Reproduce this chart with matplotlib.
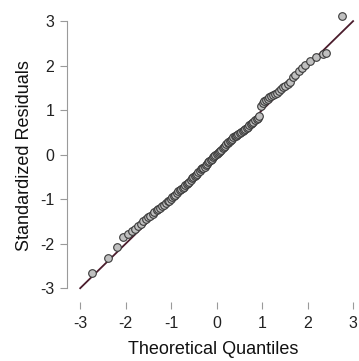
import matplotlib
matplotlib.use("Agg")
import matplotlib.pyplot as plt

plt.rcParams['font.family'] = ['Liberation Sans', 'DejaVu Sans']

# theoretical quantiles (x) and sorted standardized residuals (y)
theoretical = [
    -2.74, -2.38, -2.19, -2.05, -1.95, -1.87, -1.80, -1.73, -1.67, -1.61,
    -1.56, -1.51, -1.46, -1.41, -1.37, -1.32, -1.28, -1.24, -1.20, -1.16,
    -1.12, -1.08, -1.05, -1.01, -0.98, -0.94, -0.91, -0.88, -0.84, -0.81,
    -0.78, -0.75, -0.72, -0.69, -0.66, -0.63, -0.60, -0.57, -0.54, -0.51,
    -0.48, -0.45, -0.43, -0.40, -0.37, -0.34, -0.32, -0.29, -0.26, -0.24,
    -0.21, -0.18, -0.16, -0.13, -0.10, -0.08, -0.05, -0.03, 0.00, 0.03,
    0.05, 0.08, 0.10, 0.13, 0.16, 0.18, 0.21, 0.24, 0.26, 0.29,
    0.32, 0.34, 0.37, 0.40, 0.43, 0.45, 0.48, 0.51, 0.54, 0.57,
    0.60, 0.63, 0.66, 0.69, 0.72, 0.75, 0.78, 0.81, 0.84, 0.88,
    0.91, 0.94, 0.98, 1.01, 1.05, 1.08, 1.12, 1.16, 1.20, 1.24,
    1.28, 1.32, 1.37, 1.41, 1.46, 1.51, 1.56, 1.61, 1.67, 1.73,
    1.80, 1.87, 1.95, 2.05, 2.19, 2.33, 2.40, 2.76,
]
residuals = [
    -2.66, -2.32, -2.08, -1.84, -1.78, -1.72, -1.66, -1.61, -1.55, -1.50,
    -1.45, -1.41, -1.37, -1.33, -1.29, -1.25, -1.22, -1.19, -1.16, -1.12,
    -1.09, -1.05, -1.03, -0.99, -0.96, -0.93, -0.90, -0.86, -0.82, -0.80,
    -0.78, -0.76, -0.73, -0.69, -0.66, -0.64, -0.61, -0.57, -0.53, -0.50,
    -0.48, -0.46, -0.43, -0.39, -0.36, -0.33, -0.31, -0.29, -0.27, -0.24,
    -0.20, -0.16, -0.14, -0.12, -0.09, -0.06, -0.03, -0.01, 0.02, 0.04,
    0.06, 0.09, 0.11, 0.14, 0.18, 0.20, 0.23, 0.26, 0.28, 0.31,
    0.34, 0.36, 0.39, 0.41, 0.43, 0.45, 0.47, 0.49, 0.51, 0.53,
    0.56, 0.58, 0.61, 0.63, 0.66, 0.69, 0.72, 0.74, 0.77, 0.80,
    0.83, 0.87, 1.09, 1.16, 1.20, 1.23, 1.26, 1.29, 1.32, 1.35,
    1.37, 1.39, 1.43, 1.47, 1.51, 1.55, 1.59, 1.64, 1.74, 1.80,
    1.87, 1.94, 2.01, 2.10, 2.20, 2.26, 2.28, 3.12,
]
ref_line = [-3, 3]
ticks = [-3, -2, -1, 0, 1, 2, 3]

fig = plt.figure(figsize=(3.59, 3.61), dpi=100)
ax = fig.add_axes([67 / 359, 59 / 361, 292 / 359, 292 / 361])

ax.plot(ref_line, ref_line, color='#4a1c2c', lw=1.3, zorder=2)
ax.plot(theoretical, residuals, 'o', ms=5.5, mfc='#c0c0c0', mec='#3a3a3a',
        mew=0.8, zorder=3)

ax.set_xlim(-3.29, 3.13)
ax.set_ylim(-3.31, 3.25)
ax.set_xticks(ticks)
ax.set_yticks(ticks)
ax.set_xticklabels([str(t) for t in ticks])
ax.set_yticklabels([str(t) for t in ticks])

for s in ['top', 'right', 'bottom']:
    ax.spines[s].set_visible(False)
ax.spines['left'].set_bounds(-3, 3)
ax.spines['left'].set_color('#9a9a9a')
ax.spines['left'].set_linewidth(0.8)
ax.tick_params(axis='both', direction='out', length=5, width=0.8,
               color='#9a9a9a', labelsize=11.5, labelcolor='#222222')
ax.tick_params(axis='x', pad=5)
ax.tick_params(axis='y', pad=4)

ax.set_xlabel('Theoretical Quantiles', fontsize=13, labelpad=7,
              color='#111111')
ax.set_ylabel('Standardized Residuals', fontsize=13, labelpad=5,
              color='#111111')

fig.savefig('out.png', dpi=100)
